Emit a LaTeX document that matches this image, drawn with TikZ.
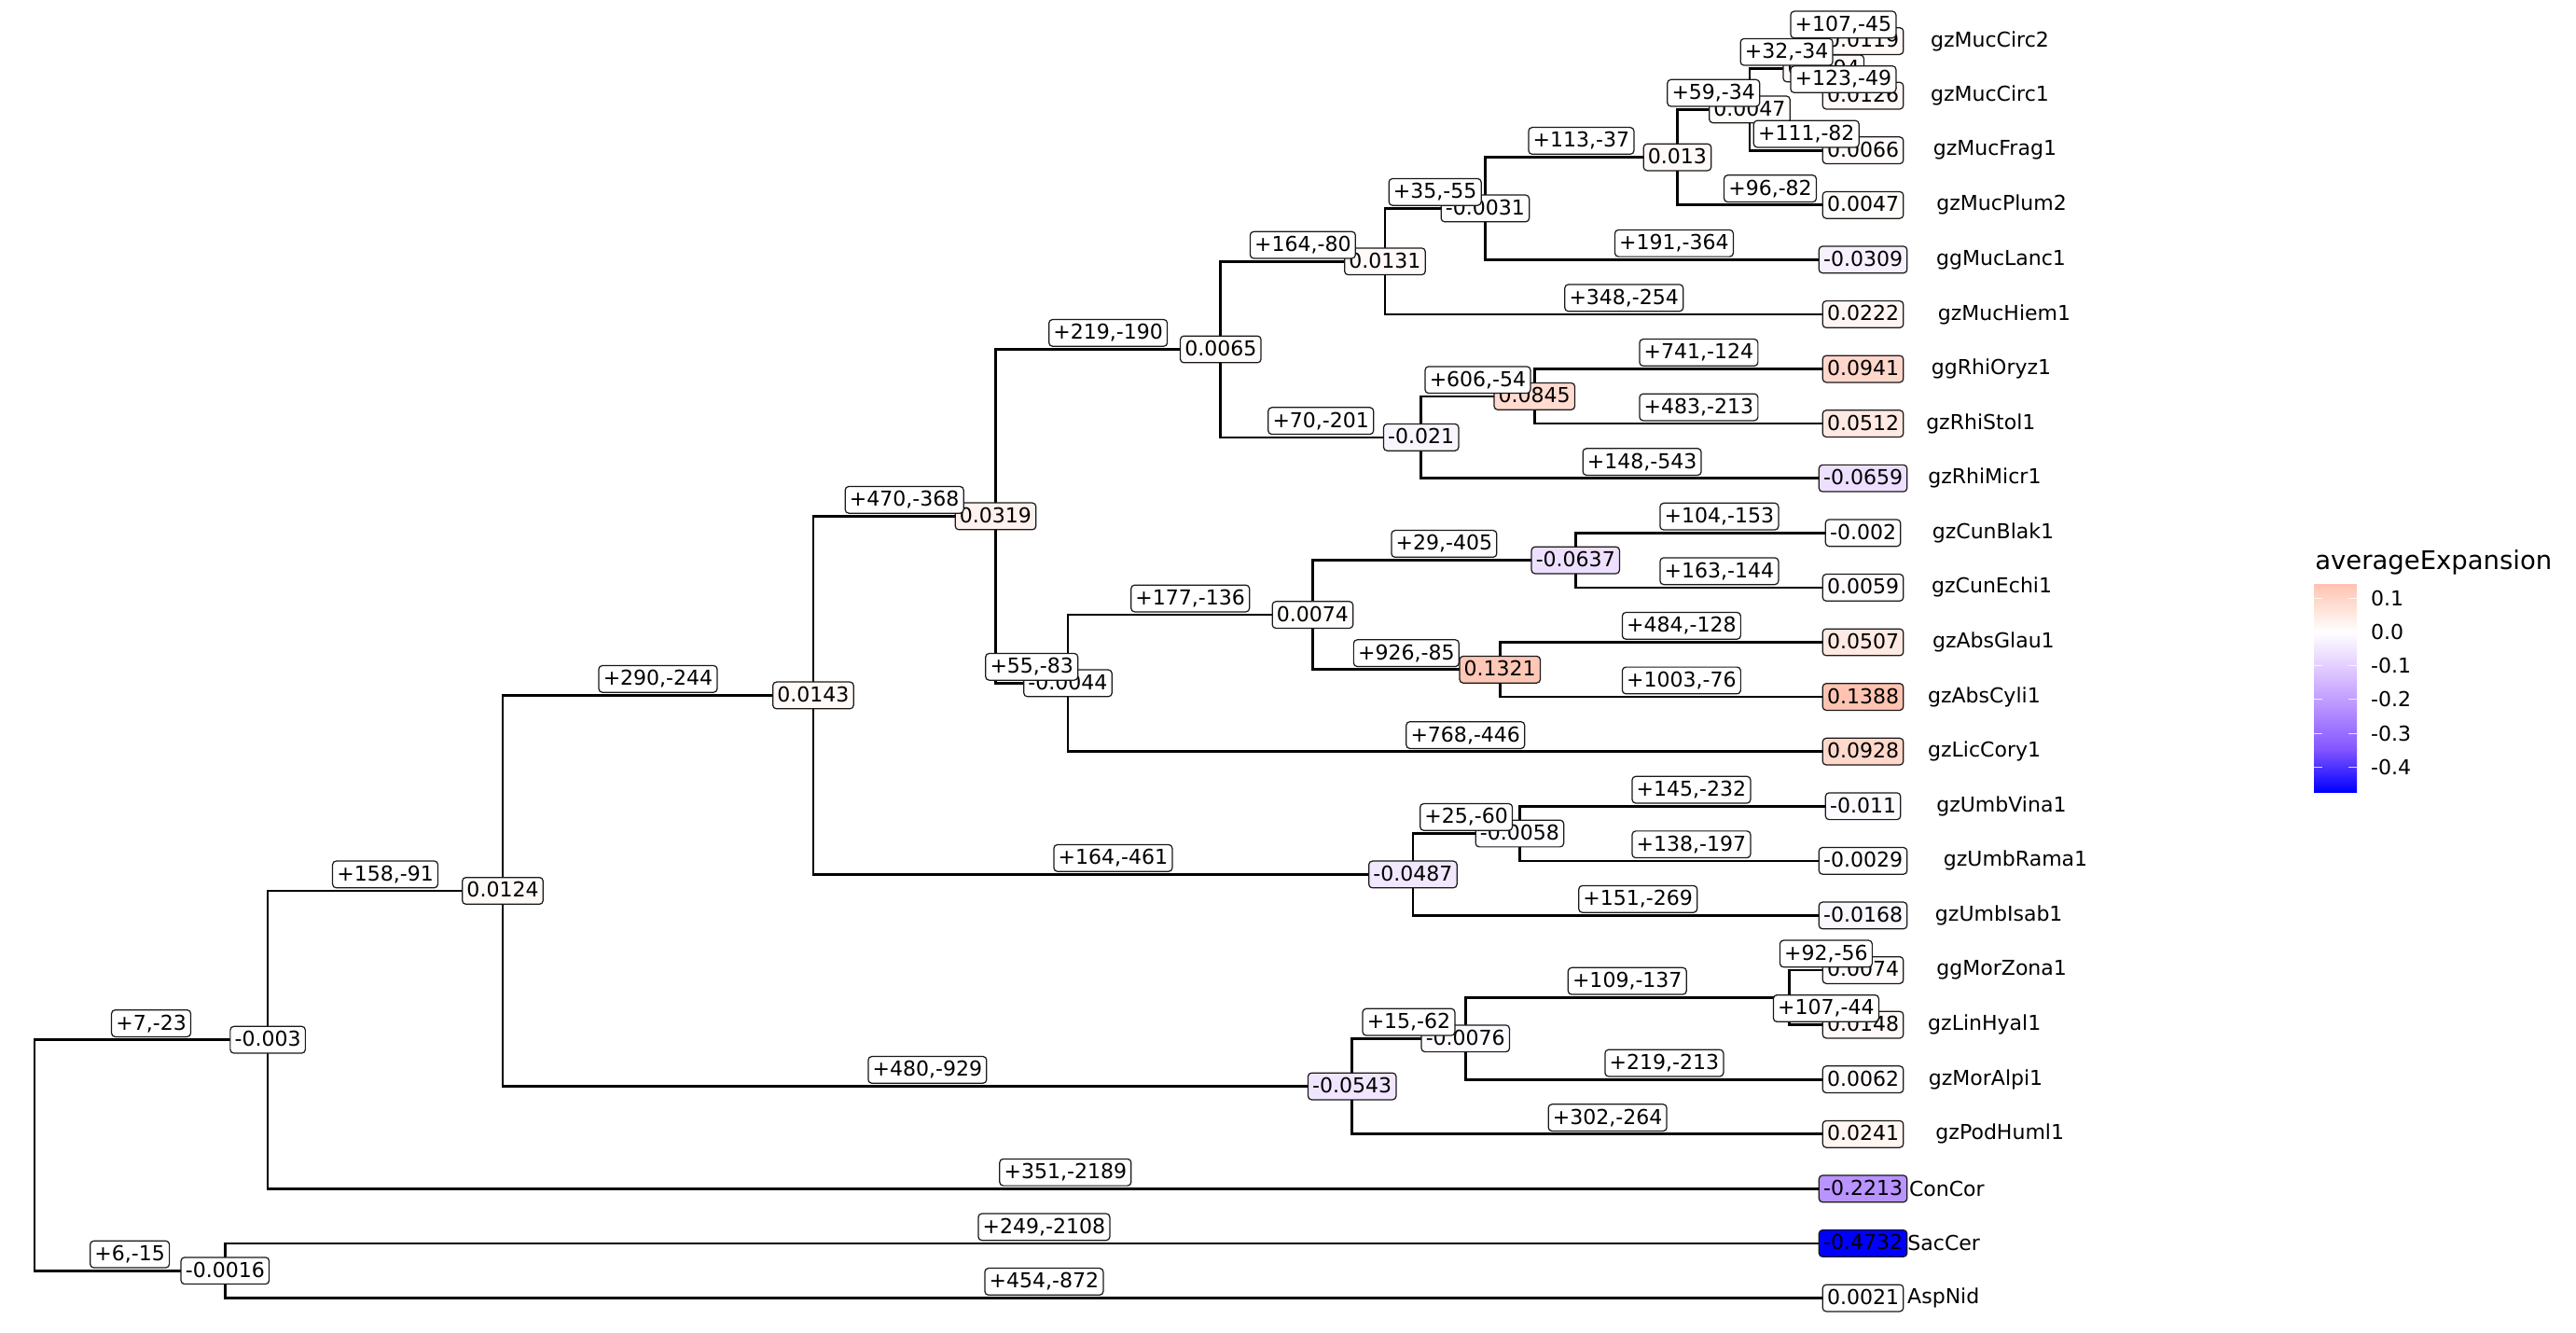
\documentclass[tikz,border=0pt]{standalone}
\usepackage{fontspec}
\setmainfont{DejaVu Sans}
\definecolor{hiC}{RGB}{255,196,177}
\definecolor{loA}{RGB}{227,207,255}
\definecolor{loB}{RGB}{185,147,255}
\definecolor{loC}{RGB}{129,84,255}
\definecolor{loD}{RGB}{0,0,255}
\newcommand\labfont{\fontsize{12.5}{15}\selectfont}
% parent/child/branch label
\newcommand\branchlist{root/nA/{+7,-23}, root/nB/{+6,-15}, nB/t23/{+249,-2108},
 nB/t24/{+454,-872}, nA/nC/{+158,-91}, nA/t22/{+351,-2189}, nC/nD/{+290,-244},
 nC/nE/{+480,-929}, nD/nF/{+470,-368}, nD/nG/{+164,-461}, nF/nH/{+219,-190},
 nF/nI/{+55,-83}, nH/nJ/{+164,-80}, nH/nK/{+70,-201}, nJ/nL/{+35,-55},
 nJ/t6/{+348,-254}, nL/nM/{+113,-37}, nL/t5/{+191,-364}, nM/nN/{+59,-34},
 nM/t4/{+96,-82}, nN/nO/{+32,-34}, nN/t3/{+111,-82}, nO/t1/{+107,-45},
 nO/t2/{+123,-49}, nK/nP/{+606,-54}, nK/t9/{+148,-543}, nP/t7/{+741,-124},
 nP/t8/{+483,-213}, nI/nQ/{+177,-136}, nI/t14/{+768,-446}, nQ/nR/{+29,-405},
 nQ/nS/{+926,-85}, nR/t10/{+104,-153}, nR/t11/{+163,-144}, nS/t12/{+484,-128},
 nS/t13/{+1003,-76}, nG/nT/{+25,-60}, nG/t17/{+151,-269}, nT/t15/{+145,-232},
 nT/t16/{+138,-197}, nE/nU/{+15,-62}, nE/t21/{+302,-264}, nU/nV/{+109,-137},
 nU/t20/{+219,-213}, nV/t18/{+92,-56}, nV/t19/{+107,-44}}
\tikzset{
  branch/.style={line width=1.5pt},
  lab/.style={draw=black!90, line width=0.7pt, rounded corners=2.2pt,
    inner xsep=2.7pt, inner ysep=3pt, text height=9.1pt, text depth=1.2pt,
    font=\labfont},
  elab/.style={lab, fill=white, above=1.5pt},
  ev/.code={%
    \ifdim #1pt<-0.2213pt \pgfkeysalso{fill=loD}%
    \else\ifdim #1pt<-0.1pt
      \pgfmathsetmacro\evpct{100*(-#1-0.1)/0.1213}\pgfkeysalso{fill=loB!\evpct!loA}%
    \else\ifdim #1pt<0pt
      \pgfmathsetmacro\evpct{-100*#1/0.1}\pgfkeysalso{fill=loA!\evpct!white}%
    \else
      \pgfmathsetmacro\evpct{min(100,100*#1/0.1388)}\pgfkeysalso{fill=hiC!\evpct!white}%
    \fi\fi\fi},
  tick/.style={white, opacity=0.8, line width=0.5pt}
}
\begin{document}
\begin{tikzpicture}[x=1pt,y=-1pt]
\useasboundingbox (0,0) rectangle (1568,811);
% tips and inner vertices
\foreach \k in {1,...,24} \coordinate (t\k) at (1134,{25+(\k-1)*33.26});
\coordinate (root) at (21,703.1);
\coordinate (nA) at (163,632.8);
\coordinate (nB) at (137,773.35);
\coordinate (nC) at (306,542.15);
\coordinate (nD) at (495,423.2);
\coordinate (nE) at (823,661.1);
\coordinate (nF) at (606,314.2);
\coordinate (nG) at (860,532.2);
\coordinate (nH) at (743,212.6);
\coordinate (nI) at (650,415.8);
\coordinate (nJ) at (843,159.1);
\coordinate (nK) at (865,266.15);
\coordinate (nL) at (904,126.85);
\coordinate (nM) at (1021,95.7);
\coordinate (nN) at (1065,66.6);
\coordinate (nO) at (1110,41.65);
\coordinate (nP) at (934,241.2);
\coordinate (nQ) at (799,374.2);
\coordinate (nR) at (959,340.95);
\coordinate (nS) at (913,407.5);
\coordinate (nT) at (925,507.25);
\coordinate (nU) at (892,632);
\coordinate (nV) at (1089,607.05);
% branches
\foreach \p/\c/\e in \branchlist \draw[branch] (\p) |- (\c);
% inner values
\foreach \c/\val in {nA/-0.003, nB/-0.0016, nC/0.0124, nD/0.0143, nE/-0.0543,
  nF/0.0319, nG/-0.0487, nH/0.0065, nI/-0.0044, nJ/0.0131, nK/-0.021,
  nL/-0.0031, nM/0.013, nN/0.0047, nO/0.0094, nP/0.0845, nQ/0.0074,
  nR/-0.0637, nS/0.1321, nT/-0.0058, nU/-0.0076}
  \node[lab, ev=\val] (l\c) at (\c) {\val};
% tip values and names
\foreach \nm/\val [count=\k] in {gzMucCirc2/0.0119, gzMucCirc1/0.0126,
  gzMucFrag1/0.0066, gzMucPlum2/0.0047, ggMucLanc1/-0.0309, gzMucHiem1/0.0222,
  ggRhiOryz1/0.0941, gzRhiStol1/0.0512, gzRhiMicr1/-0.0659, gzCunBlak1/-0.002,
  gzCunEchi1/0.0059, gzAbsGlau1/0.0507, gzAbsCyli1/0.1388, gzLicCory1/0.0928,
  gzUmbVina1/-0.011, gzUmbRama1/-0.0029, gzUmbIsab1/-0.0168, ggMorZona1/0.0074,
  gzLinHyal1/0.0148, gzMorAlpi1/0.0062, gzPodHuml1/0.0241, ConCor/-0.2213,
  SacCer/-0.4732, AspNid/0.0021}
{
  \node[lab, ev=\val] (v\k) at (t\k) {\val};
  \node[anchor=west, inner sep=0pt, font=\labfont] (name\k) at ([xshift=5pt]t\k)
    {\makebox[1.5\width][r]{\nm}};
}
% branch labels on top
\foreach \p/\c/\e in \branchlist \path (\p) |- (\c) node[pos=0.75, elab] {\e};
% legend
\node[anchor=west, inner sep=0pt, font=\fontsize{15.6}{18}\selectfont] (legtitle)
  at (1409,342) {averageExpansion};
\shade[bottom color=loD, top color=loC] (1408.5,482) rectangle (1434.6,456.4);
\shade[bottom color=loC, top color=loB] (1408.5,456.8) rectangle (1434.6,429.9);
\shade[bottom color=loB, top color=loA] (1408.5,430.3) rectangle (1434.6,404.9);
\shade[bottom color=loA, top color=white] (1408.5,405.3) rectangle (1434.6,384.3);
\shade[bottom color=white, top color=hiC] (1408.5,384.7) rectangle (1434.6,355.9);
\foreach \tv/\tl [count=\k] in {0.1/0.1, 0/0.0, -0.1/-0.1, -0.2/-0.2, -0.3/-0.3, -0.4/-0.4}
{
  \draw[tick] (1408.5,{384.5-206*\tv}) -- ++(5.2,0);
  \draw[tick] (1434.6,{384.5-206*\tv}) -- ++(-5.2,0);
  \node[anchor=west, inner sep=0pt, font=\labfont] (key\k) at (1443,{384.5-206*\tv}) {\tl};
}
\end{tikzpicture}
\end{document}
